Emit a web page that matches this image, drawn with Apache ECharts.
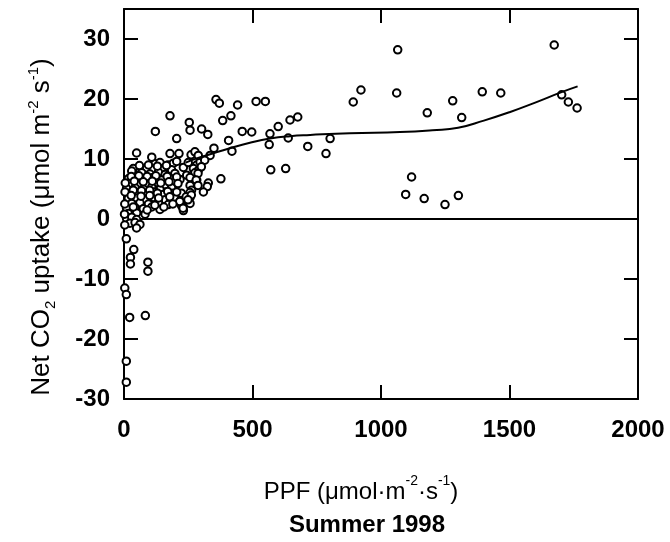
<!DOCTYPE html>
<html>
<head>
<meta charset="utf-8">
<script src="https://cdn.jsdelivr.net/npm/echarts@6/dist/echarts.min.js"></script>
<style>html,body{margin:0;padding:0;background:#fff}#c{width:670px;height:542px}</style>
</head>
<body>
<div id="c"></div>
<script>
// ---- data ----
const xTicks = [0, 500, 1000, 1500, 2000];
const yTicks = [-30, -20, -10, 0, 10, 20, 30];

const scatterCluster = [
  [121,9.2],[140,9.4],[172,9.0],[192,9.3],[283,9.0],[296,9.5],
  [36,8.4],[88,8.5],[114,8.3],[153,8.4],[185,8.2],[231,8.6],[270,8.4],[289,8.1],
  [36,7.6],[69,7.7],[101,7.5],[134,7.8],[160,7.4],[198,7.6],[244,7.3],[276,7.7],
  [17,6.7],[49,6.8],[82,6.6],[114,6.9],[147,6.5],[179,6.8],[218,6.6],[257,6.9],[283,6.5],
  [23,5.9],[62,6.0],[95,5.8],[127,6.1],[160,5.7],[192,6.0],[257,5.6],
  [10,5.1],[43,5.2],[75,5.0],[108,5.3],[140,4.9],[185,5.2],[263,4.8],
  [23,4.3],[56,4.4],[88,4.2],[121,4.5],[153,4.1],[192,4.3],[224,4.0],[257,4.4],
  [17,3.4],[49,3.5],[82,3.3],[114,3.6],[160,3.2],[198,3.5],[218,3.0],[237,3.3],[257,3.6],
  [30,2.6],[62,2.7],[95,2.5],[134,2.8],[172,2.4],[224,2.2],[257,2.6],
  [10,1.8],[43,1.9],[75,1.7],[108,2.0],[140,1.6],[231,1.4],
  [17,0.9],[49,1.0],[82,0.8],
  [10,0.1],[30,0.3],[49,-0.1],
  [23,-0.7],[43,-0.6],[62,-0.9],[49,-1.5],
  [3,2.5],[5,6.0],[2,0.8],[4,4.5],[3,-1.0],
  [223,4.3],[242,3.7],[262,4.0],[217,2.9],[230,1.8],[249,3.2],
  [30,8.0],[60,8.9],[95,9.0],[130,8.8],[165,8.9],[205,9.6],[250,9.4],
  [28,7.1],[58,7.2],[90,7.1],[124,7.2],[168,7.1],[205,7.0],
  [40,6.3],[75,6.2],[110,6.3],[143,6.0],[175,6.2],[210,5.9],
  [36,4.8],[68,4.7],[100,4.8],[130,4.3],[170,4.6],[205,4.5],
  [28,3.9],[66,3.8],[100,3.9],[135,3.5],[178,3.7],
  [36,2.0],[90,1.5],[120,2.3],[155,2.0],[190,2.5]
];

const scatterMid = [
  [179,17.2],[122,14.6],[254,16.1],[257,14.8],[205,13.4],[302,15.0],[326,14.1],
  [358,19.9],[371,19.3],[442,19.0],[416,17.2],[384,16.4],[460,14.6],[497,14.5],
  [514,19.6],[550,19.6],[407,13.1],[350,11.8],[420,11.3],[600,15.4],[646,16.5],
  [676,17.0],[568,14.2],[565,12.4],[639,13.5],[715,12.1],[802,13.4],[786,10.9],
  [571,8.2],[629,8.4],[377,6.7],[328,6.0],[324,5.4],[309,4.5],[49,11.0],
  [261,10.7],[276,11.2],[289,10.6],[179,10.9],[214,10.9],[108,10.3],[335,10.6],
  [314,9.8],[301,8.7],[288,7.6],[281,6.5],[288,5.6]
];

const scatterHigh = [
  [892,19.5],[922,21.5],[1065,28.2],[1674,29.0],[1061,21.0],[1180,17.7],
  [1279,19.7],[1314,16.9],[1394,21.2],[1466,21.0],[1703,20.7],[1729,19.5],
  [1763,18.5],[1119,7.0],[1096,4.1],[1168,3.4],[1249,2.4],[1301,3.9]
];

const scatterNegative = [
  [9,-3.3],[38,-5.1],[25,-6.4],[25,-7.5],[93,-7.2],[93,-8.7],
  [3,-11.5],[9,-12.6],[22,-16.4],[83,-16.1],[9,-23.7],[9,-27.2]
];

const fitCurve = [
  [240,9.4],[283,10.1],[335,10.8],[412,11.8],[490,12.7],[568,13.4],[646,13.8],
  [724,14.0],[879,14.3],[1074,14.5],[1200,14.8],[1300,15.2],[1400,16.4],
  [1500,17.8],[1600,19.4],[1700,21.1],[1765,22.1]
];

const zeroLine = [[0,0],[2000,0]];

// ---- chart ----
const FONT = '"Liberation Sans", Arial, Helvetica, sans-serif';
const chart = echarts.init(document.getElementById('c'), null, {renderer: 'canvas'});

const axisLineStyle = {show: true, onZero: false, lineStyle: {color: '#000', width: 2}};
const tickStyle = {show: true, inside: true, length: 14, lineStyle: {color: '#000', width: 2}};
const tickLabel = {fontFamily: FONT, fontWeight: 'bold', fontSize: 24, color: '#000'};

const allPoints = scatterCluster.concat(scatterMid, scatterHigh, scatterNegative);

chart.setOption({
  animation: false,
  backgroundColor: '#fff',
  grid: {left: 124, right: 32, top: 9, bottom: 143, containLabel: false},
  xAxis: [{
    type: 'value', min: xTicks[0], max: xTicks[xTicks.length - 1], interval: 500,
    axisLine: axisLineStyle, axisTick: tickStyle, splitLine: {show: false},
    axisLabel: Object.assign({margin: 19, formatter: v => String(v)}, tickLabel),
    name: '{a|PPF (μmol·m}{sup|-2}{a|·s}{sup|-1}{a|)}',
    nameLocation: 'middle', nameGap: 75,
    nameTextStyle: {
      padding: [0, 40, 0, 0],
      rich: {
        a: {fontFamily: FONT, fontSize: 24, color: '#000', lineHeight: 30, verticalAlign: 'bottom'},
        sup: {fontFamily: FONT, fontSize: 14, color: '#000', lineHeight: 15, verticalAlign: 'top'}
      }
    }
  }, {
    type: 'value', position: 'top', min: xTicks[0], max: xTicks[xTicks.length - 1], interval: 500,
    axisLine: axisLineStyle, axisTick: tickStyle, axisLabel: {show: false}, splitLine: {show: false}
  }],
  yAxis: [{
    type: 'value', min: -30, max: 35, interval: 10,
    axisLine: axisLineStyle, axisTick: tickStyle, splitLine: {show: false},
    axisLabel: Object.assign({margin: 14, formatter: v => (yTicks.indexOf(v) >= 0 ? String(v) : '')}, tickLabel),
    name: '{a|Net CO}{sub|2}{a| uptake (μmol m}{sup|-2}{a| s}{sup|-1}{a|)}',
    nameLocation: 'middle', nameRotate: 90, nameGap: 66,
    nameTextStyle: {
      padding: [0, 46, 0, 0],
      rich: {
        a: {fontFamily: FONT, fontSize: 26, color: '#000', lineHeight: 32, verticalAlign: 'middle'},
        sub: {fontFamily: FONT, fontSize: 15, color: '#000', lineHeight: 15, verticalAlign: 'bottom'},
        sup: {fontFamily: FONT, fontSize: 15, color: '#000', lineHeight: 15, verticalAlign: 'top'}
      }
    }
  }, {
    type: 'value', position: 'right', min: -30, max: 35, interval: 10,
    axisLine: axisLineStyle, axisTick: tickStyle, axisLabel: {show: false}, splitLine: {show: false}
  }],
  graphic: [{
    type: 'text', x: 367, y: 525,
    style: {text: 'Summer 1998', align: 'center', verticalAlign: 'middle',
            fontFamily: FONT, fontWeight: 'bold', fontSize: 24, fill: '#000'}
  }],
  series: [{
    type: 'line', data: zeroLine, symbol: 'none', silent: true,
    lineStyle: {color: '#000', width: 2}, z: 1
  }, {
    type: 'line', data: fitCurve, smooth: true, symbol: 'none', silent: true,
    lineStyle: {color: '#000', width: 2}, z: 3
  }, {
    type: 'scatter', data: allPoints, symbol: 'circle', symbolSize: 7.5,
    itemStyle: {color: '#fff', borderColor: '#000', borderWidth: 2, opacity: 1}, z: 2
  }]
});
</script>
</body>
</html>
